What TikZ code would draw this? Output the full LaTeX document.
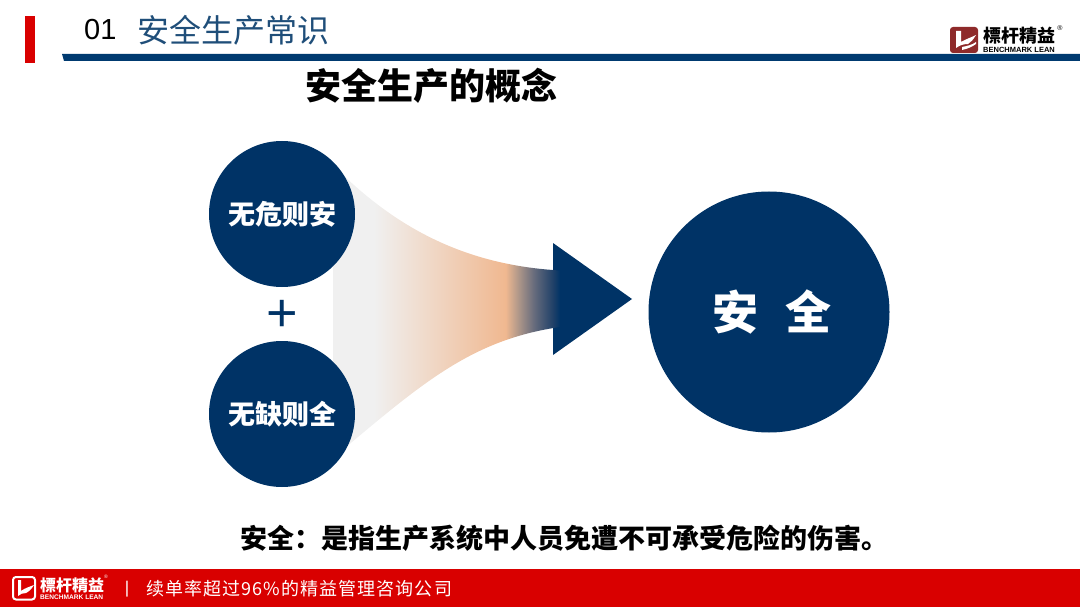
\documentclass[tikz,border=0pt]{standalone}
\usepackage{fontspec}
\usepackage{xcolor}
\usetikzlibrary{positioning}
\setmainfont{Liberation Sans}
\newfontfamily\cjk{Noto Sans CJK SC}
\newfontfamily\cjktc{Noto Sans CJK TC}
\newfontfamily\cjkwide[LetterSpace=6]{Noto Sans CJK SC}
\newcommand{\fsz}[1]{\fontsize{#1}{#1}\selectfont}
\definecolor{Navy}{HTML}{003366}
\definecolor{Rule}{HTML}{003A70}
\definecolor{TitleBlue}{HTML}{1F4E79}
\definecolor{Brand}{HTML}{D90000}
\definecolor{Mark}{HTML}{8E2A2A}
\definecolor{Fan0}{HTML}{F0F0F0}
\definecolor{Fan1}{HTML}{F0B890}
\definecolor{Fan2}{HTML}{B49A8A}
\definecolor{Fan3}{HTML}{646A7C}
\definecolor{Fan4}{HTML}{1F4068}
\pgfdeclarehorizontalshading{fanshade}{100bp}{
  color(0bp)=(Fan0); color(25bp)=(Fan0); color(34bp)=(Fan0);
  color(63bp)=(Fan1); color(65.6bp)=(Fan2); color(69.4bp)=(Fan3);
  color(73.5bp)=(Fan4); color(75bp)=(Navy); color(100bp)=(Navy)}
\tikzset{
  ball/.style={circle,fill=Navy,text=white,inner sep=0pt,font=\cjk\bfseries\fsz{27}},
}
\begin{document}
\begin{tikzpicture}[x=1pt,y=-1pt,every node/.style={inner sep=0pt,anchor=center}]
  \useasboundingbox (0,0) rectangle (1080,607);
  % header
  \fill[Brand] (25,16) rectangle (35,63);
  \fill[Rule] (62,54) -- (1080,54) -- (1080,61) -- (64,61) -- cycle;
  \node[anchor=west,font=\fsz{29}] (num) at (84,30) {01};
  \node[anchor=west,text=TitleBlue,font=\cjk\fsz{32}] (head) at (137,30) {安全生产常识};
  % header logo
  \fill[Mark,rounded corners=3pt] (950,27) rectangle (978,53);
  \fill[white] (956,31) -- (961,31) -- (961,42) .. controls (966,39) and (970,38) .. (976,35)
    .. controls (973,40) and (971,42) .. (968,44) .. controls (964,44) and (960,45) .. (956,48) -- cycle;
  \fill[white] (962,47) .. controls (967,46) and (972,45) .. (976,42) -- (976,44) .. controls (972,47) and (967,49) .. (962,50) -- cycle;
  \node[anchor=west,font=\cjktc\bfseries\fsz{18}] (brand) at (983,35.5) {標杆精益};
  \node[anchor=west,font=\bfseries\fsz{7.5}] (latin) at (983,49.5) {BENCHMARK LEAN};
  \node[font=\fsz{7}] (reg) at (1060,28) {®};
  % title
  \node[font=\cjk\bfseries\fsz{36}] (title) at (431,86) {安全生产的概念};
  % arrow
  \fill[Navy] (553,243) -- (632,299) -- (553,355) -- cycle;
  \shade[shading=fanshade] (333,165) .. controls (395,228) and (465,265) .. (560,270.5)
    -- (560,327) .. controls (470,340) and (420,385) .. (333,458) -- cycle;
  % circles
  \node[ball,minimum size=146pt] (wu) at (282,214) {无危则安\hspace{2pt}};
  \node[ball,minimum size=146pt] (que) at (282,414) {无缺则全};
  \node[ball,minimum size=241pt,font=\cjk\bfseries\fsz{46}] (an) at (769,312) {\hspace{6pt}安\hspace{28pt}全};
  \node[text=Navy,font=\fsz{54}] (plus) at (282,316) {+};
  % caption
  \node[anchor=west,font=\cjk\bfseries\fsz{27}] (note) at (240,538) {安全：是指生产系统中人员免遭不可承受危险的伤害。};
  % footer
  \fill[Brand] (0,569) rectangle (1080,607);
  \draw[white,line width=2pt,rounded corners=3pt] (13,577) rectangle (35,599.5);
  \fill[white] (18,580) -- (21,580) -- (21,591) .. controls (25,588) and (29,587) .. (34,585)
    .. controls (31,590) and (28,592) .. (26,593) .. controls (23,593) and (20,594) .. (18,596) -- cycle;
  \node[anchor=west,text=white,font=\cjktc\bfseries\fsz{16}] (brandb) at (40,585.5) {標杆精益};
  \node[anchor=west,text=white,font=\bfseries\fsz{6.6}] (latinb) at (40,597.5) {BENCHMARK LEAN};
  \node[text=white,font=\fsz{5}] (regb) at (106,577) {®};
  \node[text=white,font=\fsz{17}] (bar) at (127,589) {|};
  \node[anchor=west,text=white,font=\cjkwide\fsz{18}] (slogan) at (146,589) {续单率超过96\%的精益管理咨询公司};
\end{tikzpicture}
\end{document}
